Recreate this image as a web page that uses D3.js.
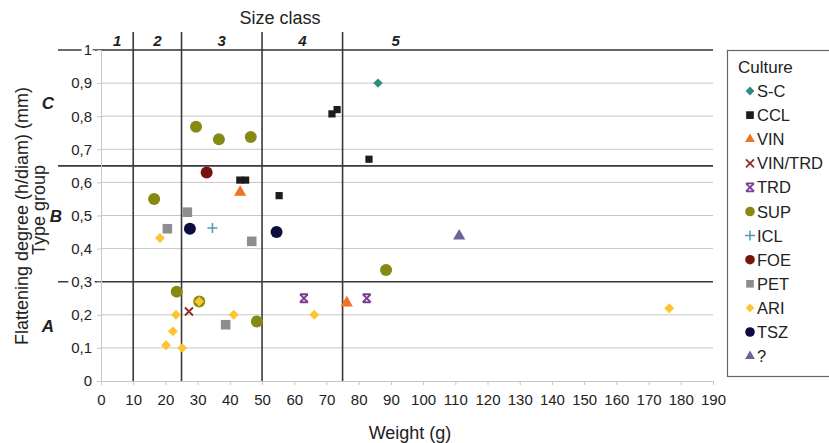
<!DOCTYPE html>
<html>
<head>
<meta charset="utf-8">
<script src="https://cdn.jsdelivr.net/npm/d3@7"></script>
<style>
body { margin: 0; background: #fff; }
text { font-family: "Liberation Sans", Arial, sans-serif; fill: #222; }
</style>
</head>
<body>
<script>
// culture groups, in legend order
const cultures = ["S-C","CCL","VIN","VIN/TRD","TRD","SUP","ICL","FOE","PET","ARI","TSZ","?"]
const colors = ["#2f8a80","#1c1c1c","#f07322","#8e2b2b","#7d3d92","#848a12","#4d9bb0","#7a1212","#8e8e8e","#fcc42e","#0c0c3e","#6b6496"]
const shapes = ["diamond","square","triangle","x","xbar","circle","plus","circle","square","diamond","circle","triangle"]

// points per culture: [weight (g), flattening degree]
const scPts = [[86,0.90]]
const cclPts = [[71.7,0.807],[73.3,0.82],[83.2,0.67],[43.1,0.607],[44.9,0.607],[55.3,0.56]]
const vinPts = [[43.2,0.57],[76.3,0.236]]
const vinTrdPts = [[27.3,0.21]]
const trdPts = [[63,0.25],[82.5,0.25]]
const supPts = [[29.5,0.768],[36.6,0.73],[46.5,0.737],[16.5,0.55],[88.5,0.335],[23.5,0.27],[30.5,0.24],[48.4,0.18]]
const iclPts = [[34.6,0.462]]
const foePts = [[32.8,0.63]]
const petPts = [[26.8,0.51],[20.6,0.46],[46.8,0.422],[38.7,0.17]]
const ariPts = [[18.3,0.432],[30.5,0.24],[23.3,0.2],[22.3,0.15],[20.2,0.108],[25.2,0.10],[41.2,0.2],[66.2,0.2],[176.4,0.22]]
const tszPts = [[27.6,0.46],[54.5,0.45]]
const unkPts = [[111.2,0.438]]
const allPts = [scPts,cclPts,vinPts,vinTrdPts,trdPts,supPts,iclPts,foePts,petPts,ariPts,tszPts,unkPts]

const xTicks = d3.range(0, 191, 10)
const yTicks = d3.range(0, 11).map(d => d / 10)
const classBounds = [10, 25, 50, 75]
const classLabels = ["1","2","3","4","5"]
const classLabelPos = [5, 17.5, 37.5, 62.5, 91.5]
const groupBounds = [1, 0.65, 0.3]
const groupLabels = [["C",0.84],["B",0.5],["A",0.165]]

const width = 829, height = 443
const svg = d3.select("body").append("svg").attr("width", width).attr("height", height)

const x = d3.scaleLinear().domain([0, 190]).range([101, 713])
const y = d3.scaleLinear().domain([0, 1]).range([381, 50])

const FONT = "Liberation Sans, Arial, sans-serif"

// gridlines
svg.append("g").selectAll("line").data(yTicks.filter(d => d > 0)).join("line")
  .attr("x1", x(0)).attr("x2", x(190)).attr("y1", d => y(d)).attr("y2", d => y(d))
  .attr("stroke", "#c6c6c6").attr("stroke-width", 1)

// x axis
const xAxis = svg.append("g").attr("transform", `translate(0,${y(0)})`)
  .call(d3.axisBottom(x).tickValues(xTicks).tickSize(4).tickPadding(9).tickFormat(d3.format("d")))
xAxis.select(".domain").attr("stroke", "#c6c6c6")
xAxis.selectAll(".tick line").attr("stroke", "#c6c6c6")
xAxis.selectAll("text").attr("font-size", 15).style("font-family", FONT).attr("fill", "#333")

// y axis
const yAxis = svg.append("g").attr("transform", `translate(${x(0)},0)`)
  .call(d3.axisLeft(y).tickValues(yTicks).tickSize(4).tickPadding(5)
    .tickFormat(d => d === 0 || d === 1 ? d3.format("d")(d) : d3.format(".1f")(d).replace(".", ",")))
yAxis.select(".domain").attr("stroke", "#c6c6c6")
yAxis.selectAll(".tick line").attr("stroke", "#c6c6c6")

// heavy group lines
svg.append("g").selectAll("line").data(groupBounds).join("line")
  .attr("x1", 58).attr("x2", x(190)).attr("y1", d => y(d)).attr("y2", d => y(d))
  .attr("stroke", "#3a3a3a").attr("stroke-width", 1.6)

yAxis.selectAll("text").attr("font-size", 15).style("font-family", FONT)
  .attr("fill", "#333").attr("stroke", "#fff").attr("stroke-width", 7).attr("paint-order", "stroke")
yAxis.raise()

// size class lines
svg.append("g").selectAll("line").data(classBounds).join("line")
  .attr("x1", d => x(d)).attr("x2", d => x(d)).attr("y1", 32).attr("y2", y(0))
  .attr("stroke", "#3a3a3a").attr("stroke-width", 1.6)

svg.append("g").selectAll("text").data(classLabels).join("text")
  .attr("x", (d, i) => x(classLabelPos[i])).attr("y", 46)
  .attr("text-anchor", "middle").attr("font-size", 15).attr("font-weight", "bold").attr("font-style", "italic")
  .text(d => d)

svg.append("text").attr("x", 280).attr("y", 24).attr("text-anchor", "middle").attr("font-size", 18).text("Size class")

svg.append("g").selectAll("text").data(groupLabels).join("text")
  .attr("x", d => d[0] === "B" ? 56 : 48).attr("y", d => y(d[1]) + 6)
  .attr("text-anchor", "middle").attr("font-size", 17).attr("font-weight", "bold").attr("font-style", "italic")
  .text(d => d[0])

// axis titles
svg.append("text").attr("x", 410).attr("y", 439).attr("text-anchor", "middle").attr("font-size", 18).text("Weight (g)")
svg.append("text").attr("transform", "translate(28,216) rotate(-90)").attr("text-anchor", "middle").attr("font-size", 18)
  .text("Flattening degree (h/diam) (mm)")
svg.append("text").attr("transform", "translate(45,210) rotate(-90)").attr("text-anchor", "middle").attr("font-size", 18)
  .text("Type group")

// marker shapes
function marker(g, shape, color, s) {
  if (shape === "circle") g.append("circle").attr("r", 6 * s).attr("fill", color)
  else if (shape === "square") g.append("rect").attr("x", -4.8 * s).attr("y", -4.8 * s).attr("width", 9.6 * s).attr("height", 9.6 * s).attr("fill", color)
  else if (shape === "diamond") g.append("path").attr("d", `M0,${-5.5 * s}L${5.5 * s},0L0,${5.5 * s}L${-5.5 * s},0Z`).attr("fill", color)
  else if (shape === "triangle") g.append("path").attr("d", d3.symbol(d3.symbolTriangle, 65 * s * s)).attr("fill", color)
  else if (shape === "x") g.append("path").attr("d", `M-4,-4L4,4M-4,4L4,-4`).attr("stroke", color).attr("stroke-width", 1.8)
  else if (shape === "xbar") g.append("path").attr("d", `M-4,-4L4,4M-4,4L4,-4M-4,-4L4,-4M-4,4L4,4`).attr("stroke", color).attr("stroke-width", 1.8)
  else if (shape === "plus") g.append("path").attr("d", `M-5,0L5,0M0,-5L0,5`).attr("stroke", color).attr("stroke-width", 1.5)
}

const sizeScale = { "S-C": 0.85, "CCL": 0.75, "ARI": 0.9, "PET": 1.0 }

// points
cultures.forEach((c, i) => {
  const s = sizeScale[c] || 1
  allPts[i].forEach(p => {
    const g = svg.append("g").attr("transform", `translate(${x(p[0])},${y(p[1])})`)
    marker(g, shapes[i], colors[i], s)
  })
})

// legend
const lg = svg.append("g")
lg.append("rect").attr("x", 727.5).attr("y", 50.5).attr("width", 110).attr("height", 326)
  .attr("fill", "#fff").attr("stroke", "#666").attr("stroke-width", 1.2)
lg.append("text").attr("x", 738).attr("y", 73).attr("font-size", 17).text("Culture")
cultures.forEach((c, i) => {
  const yy = 91 + i * 24.1
  const g = lg.append("g").attr("transform", `translate(750,${yy})`)
  marker(g, shapes[i], colors[i], 0.8)
  lg.append("text").attr("x", 757).attr("y", yy + 6).attr("font-size", 16.5).text(c)
})
</script>
</body>
</html>
